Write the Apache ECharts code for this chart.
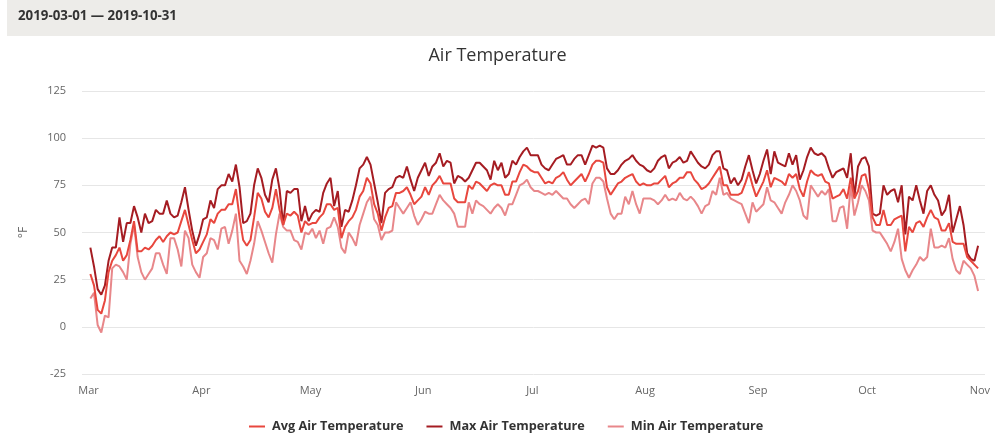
<!DOCTYPE html>
<html>
<head>
<meta charset="utf-8">
<script src="https://cdn.jsdelivr.net/npm/echarts@6/dist/echarts.min.js"></script>
<style>
html,body{margin:0;padding:0;background:#fff;}
#chart{width:995px;height:433px;}
</style>
</head>
<body>
<div id="chart"></div>
<script>
// ---- data ----
var startDate = [2019, 2, 1]; // 2019-03-01 (month is 0-based)
var dateRangeText = '2019-03-01 \u2014 2019-10-31';
var titleText = 'Air Temperature';
var unitText = '\u00b0F';
var monthLabels = ['Jan','Feb','Mar','Apr','May','Jun','Jul','Aug','Sep','Oct','Nov','Dec'];
var yTicks = [-25, 0, 25, 50, 75, 100, 125];
var seriesNames = ['Avg Air Temperature', 'Max Air Temperature', 'Min Air Temperature'];

var avgTemp = [
28,22,9,7,14,29,35,38,42,35, 38,46,56,40,40,42,41,43,46,48,
45,48,50,49,50,56,62,54,46,39, 41,45,49,57,55,60,62,62,65,65,
73,58,46,43,46,58,71,68,61,58, 63,73,62,54,60,59,61,59,50,56,
54,55,55,58,60,65,65,62,63,47, 53,56,58,62,69,72,79,76,65,60,
51,58,63,64,71,71,72,74,70,65, 67,69,74,70,75,77,80,76,76,76,
68,66,66,66,75,73,77,76,74,72, 75,76,75,75,70,70,77,77,82,86,
85,83,82,82,79,76,77,76,79,80, 82,78,75,77,79,81,77,81,86,88,
88,87,74,70,73,76,77,79,80,81, 77,75,76,75,75,76,76,78,80,74,
76,77,79,79,82,82,78,76,73,74, 76,79,82,85,75,75,70,70,70,71,
76,82,75,69,73,77,83,74,79,78, 77,75,81,79,81,73,69,77,83,81,
80,81,77,76,68,69,70,73,68,79, 68,72,80,81,73,58,54,54,62,54,
54,57,58,59,40,53,50,55,56,53, 58,62,58,57,51,51,55,45,44,44,
44,37,35,33,31
];
var maxTemp = [
42,32,20,17,22,35,42,42,58,45, 55,55,64,58,50,60,55,56,62,60,
60,67,60,58,59,66,74,62,51,43, 49,57,58,67,63,73,75,75,81,77,
86,74,55,56,60,75,84,79,70,66, 78,84,73,54,72,71,73,73,56,64,
56,60,62,61,71,76,79,64,72,53, 62,61,67,75,84,86,90,86,76,66,
55,71,73,74,79,80,79,85,78,72, 79,83,87,80,85,87,92,85,88,87,
76,80,79,77,79,83,87,87,85,83, 78,88,83,87,79,81,88,86,90,93,
95,91,91,91,86,84,83,86,89,90, 91,86,86,89,91,91,86,91,96,95,
96,95,84,81,81,83,86,88,89,91, 88,86,85,83,82,84,88,90,91,84,
87,88,90,87,88,93,90,87,85,84, 86,91,93,93,84,83,76,79,75,78,
85,91,83,76,81,88,94,81,93,87, 86,85,92,86,91,78,83,90,95,92,
91,92,90,84,79,82,83,84,79,92, 69,85,89,90,85,60,59,60,75,70,
72,73,66,75,49,69,67,75,67,60, 72,75,70,67,59,62,70,50,57,64,
54,39,36,35,43
];
var minTemp = [
15,18,1,-3,6,5,31,33,32,29, 25,44,54,37,29,25,28,31,39,39,
33,28,47,47,41,32,51,47,33,29, 26,37,39,47,46,41,52,53,44,51,
60,35,32,28,35,44,56,51,45,39, 34,49,60,53,51,51,46,45,41,50,
49,52,47,51,44,52,53,58,53,42, 39,50,47,43,54,60,66,69,57,54,
46,50,50,51,66,63,60,63,66,59, 54,57,61,60,60,65,70,67,65,63,
60,53,53,53,66,60,67,65,64,62, 60,63,65,63,59,65,65,70,75,76,
78,74,72,72,71,70,71,70,72,70, 68,68,65,63,65,67,68,65,76,79,
79,77,68,60,57,60,60,69,65,72, 65,60,68,68,68,67,65,67,70,67,
68,67,71,68,67,69,67,64,60,64, 65,72,70,79,70,71,68,67,66,65,
60,55,66,61,63,65,74,67,66,63, 60,66,70,75,72,67,59,57,75,72,
69,72,70,73,56,56,63,64,52,75, 59,66,75,72,67,51,50,50,47,44,
40,45,52,36,30,26,30,33,37,35, 37,52,42,42,43,42,47,36,30,28,
35,33,31,27,19
];

// ---- build ----
var DAY = 86400000;
var t0 = new Date(startDate[0], startDate[1], startDate[2]).getTime();
function withDates(arr) {
  return arr.map(function (v, i) { return [t0 + i * DAY + DAY / 2, v]; });
}
var axisMin = t0 - 1.8 * DAY;
var axisMax = new Date(2019, 10, 1).getTime() + 1.4 * DAY;

var colors = ['#e8473e', '#a51c22', '#e8878a'];
var font = '"Open Sans", "DejaVu Sans", sans-serif';

var chart = echarts.init(document.getElementById('chart'), null, {renderer: 'canvas'});
chart.setOption({
  animation: false,
  backgroundColor: '#ffffff',
  color: colors,
  textStyle: {fontFamily: font},
  title: {
    text: titleText,
    left: 'center',
    top: 42,
    textStyle: {fontFamily: font, fontSize: 18, fontWeight: 'normal', color: '#333333'}
  },
  graphic: [
    {type: 'rect', left: 7, top: 0, shape: {width: 988, height: 36}, style: {fill: '#edece9'}, z: -1},
    {type: 'text', left: 18, top: 10, style: {text: dateRangeText, font: 'bold 13.3px "Open Sans", "DejaVu Sans", sans-serif', fill: '#333333'}}
  ],
  legend: {
    top: 415,
    left: 244,
    itemWidth: 16,
    itemHeight: 2,
    itemGap: 23,
    icon: 'rect',
    textStyle: {fontFamily: font, fontSize: 12.7, fontWeight: 'bold', color: '#333333', padding: [0, 0, 0, 2]},
    data: seriesNames
  },
  grid: {left: 82, right: 10, top: 91, bottom: 59},
  xAxis: {
    type: 'time',
    min: axisMin,
    max: axisMax,
    splitNumber: 9,
    axisLine: {show: false},
    axisTick: {show: false},
    splitLine: {show: false},
    axisLabel: {
      showMinLabel: false,
      showMaxLabel: false,
      color: '#666666',
      fontSize: 11,
      fontFamily: font,
      margin: 11,
      formatter: function (val) { return monthLabels[new Date(val).getMonth()]; }
    }
  },
  yAxis: {
    type: 'value',
    min: yTicks[0],
    max: yTicks[yTicks.length - 1],
    interval: 25,
    name: unitText,
    nameLocation: 'middle',
    nameRotate: 90,
    nameGap: 52,
    nameTextStyle: {color: '#666666', fontSize: 12, fontFamily: font},
    axisLine: {show: false},
    axisTick: {show: false},
    axisLabel: {color: '#666666', fontSize: 11, fontFamily: font, margin: 16},
    splitLine: {lineStyle: {color: '#e6e6e6', width: 1}}
  },
  series: [
    {name: seriesNames[0], type: 'line', data: withDates(avgTemp), showSymbol: false, symbol: 'none', lineStyle: {width: 2, color: colors[0]}, itemStyle: {color: colors[0]}, z: 3},
    {name: seriesNames[1], type: 'line', data: withDates(maxTemp), showSymbol: false, symbol: 'none', lineStyle: {width: 2, color: colors[1]}, itemStyle: {color: colors[1]}, z: 2},
    {name: seriesNames[2], type: 'line', data: withDates(minTemp), showSymbol: false, symbol: 'none', lineStyle: {width: 2, color: colors[2]}, itemStyle: {color: colors[2]}, z: 1}
  ]
});
</script>
</body>
</html>
